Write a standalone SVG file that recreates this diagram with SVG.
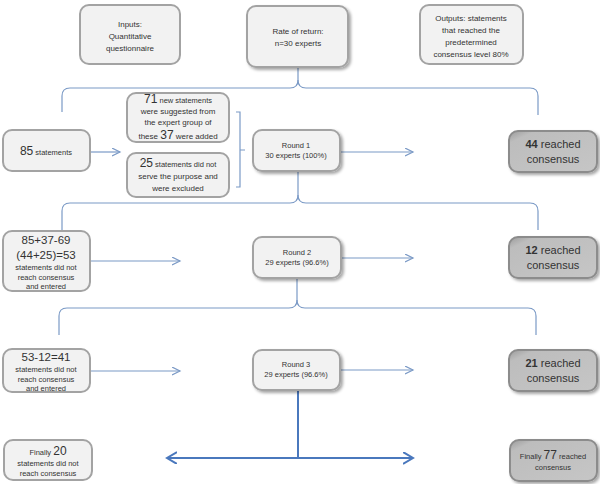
<svg xmlns="http://www.w3.org/2000/svg" width="600" height="484" viewBox="0 0 600 484">
<defs>
<style>
.box{fill:#f2f2f2;stroke:#a3a3a3;stroke-width:2}
.dark{fill:url(#dg);stroke:#8c8c8c;stroke-width:2}
.ln{fill:none;stroke:#7b9ac6;stroke-width:1.2}
.bl{fill:none;stroke:#4a78bd;stroke-width:2}
text{font-family:"Liberation Sans",Arial,sans-serif;fill:#333;text-anchor:middle}
.s{font-size:7.5px}
.m{font-size:8px}
.b{font-size:12px}
.d{font-size:11px}
.e{font-size:11.5px}
</style>
<linearGradient id="dg" x1="0" y1="0" x2="1" y2="1">
<stop offset="0" stop-color="#9a9a9a"/>
<stop offset="0.15" stop-color="#bdbdbd"/>
<stop offset="1" stop-color="#c6c6c6"/>
</linearGradient>
<filter id="sh" x="-20%" y="-20%" width="150%" height="150%">
<feDropShadow dx="2" dy="2" stdDeviation="1.5" flood-color="#000" flood-opacity="0.35"/>
</filter>
<marker id="ah" markerWidth="10" markerHeight="10" refX="8" refY="4" orient="auto" markerUnits="userSpaceOnUse">
<path d="M0,0 L8,4 L0,8" fill="none" stroke="#7b9ac6" stroke-width="1.2"/>
</marker>
<marker id="ab" markerWidth="14" markerHeight="14" refX="10" refY="6" orient="auto-start-reverse" markerUnits="userSpaceOnUse">
<path d="M0,0 L10,6 L0,12" fill="none" stroke="#4a78bd" stroke-width="2"/>
</marker>
</defs>

<g id="connectors">
<path class="ln" d="M298,68 L298,80 Q298,88 290,88 L70,88 Q62,88 62,96 L62,112"/>
<path class="ln" d="M298,80 Q298,88 306,88 L530,88 Q538,88 538,96 L538,115"/>
<path class="ln" d="M298,172 L298,195 Q298,203 290,203 L70,203 Q62,203 62,211 L62,230"/>
<path class="ln" d="M298,195 Q298,203 306,203 L530,203 Q538,203 538,211 L538,230"/>
<path class="ln" d="M297,279 L297,300 Q297,308 289,308 L67,308 Q59,308 59,316 L59,335"/>
<path class="ln" d="M297,300 Q297,308 305,308 L528,308 Q536,308 536,316 L536,335"/>
<path class="ln" d="M236,112 L240,112 L240,187 L236,187 M240,150 L245,150"/>
<path class="ln" d="M90,152 L120,152" marker-end="url(#ah)"/>
<path class="ln" d="M340,152 L413,152" marker-end="url(#ah)"/>
<path class="ln" d="M90,261 L180,261" marker-end="url(#ah)"/>
<path class="ln" d="M342,258 L413,258" marker-end="url(#ah)"/>
<path class="ln" d="M90,371 L180,371" marker-end="url(#ah)"/>
<path class="ln" d="M340,370 L413,370" marker-end="url(#ah)"/>
<path class="bl" d="M298,390 L298,458"/>
<path class="bl" d="M167,458 L413,458" marker-start="url(#ab)" marker-end="url(#ab)"/>
</g>

<g id="inputs">
<rect class="box" x="80" y="5" width="100" height="59" rx="9"/>
<text class="m" x="130" y="27">Inputs:</text>
<text class="m" x="130" y="39">Quantitative</text>
<text class="m" x="130" y="51">questionnaire</text>
</g>
<g id="rate">
<rect class="box" x="247" y="6" width="101" height="61" rx="9" filter="url(#sh)"/>
<text class="m" x="298" y="34">Rate of return:</text>
<text class="m" x="298" y="46">n=30 experts</text>
</g>
<g id="outputs">
<rect class="box" x="420" y="5" width="103" height="59" rx="9"/>
<text class="m" x="471" y="21">Outputs:  statements</text>
<text class="m" x="471" y="33">that reached the</text>
<text class="m" x="471" y="45">predetermined</text>
<text class="m" x="471" y="57">consensus level 80%</text>
</g>

<g id="s85">
<rect class="box" x="3" y="130" width="87" height="41" rx="9"/>
<text x="46" y="155"><tspan class="b">85</tspan><tspan class="s"> statements</tspan></text>
</g>
<g id="s71">
<rect class="box" x="127" y="93" width="102" height="49" rx="9"/>
<text x="178" y="103"><tspan class="b">71</tspan><tspan class="s"> new statements</tspan></text>
<text class="m" x="178" y="114">were suggested from</text>
<text class="m" x="178" y="125">the expert group of</text>
<text x="178" y="138.5"><tspan class="m">these  </tspan><tspan class="b">37</tspan><tspan class="m"> were added</tspan></text>
</g>
<g id="s25">
<rect class="box" x="127" y="153" width="102" height="44" rx="9"/>
<text x="178" y="167"><tspan class="b">25</tspan><tspan class="s"> statements did not</tspan></text>
<text class="m" x="178" y="179">serve the purpose and</text>
<text class="m" x="178" y="191">were excluded</text>
</g>
<g id="round1">
<rect class="box" x="253" y="130" width="87" height="41" rx="9" filter="url(#sh)"/>
<text class="s" x="296" y="148">Round 1</text>
<text class="s" x="296" y="158">30 experts (100%)</text>
</g>
<g id="r44">
<rect class="dark" x="509" y="131" width="88" height="41" rx="9" filter="url(#sh)"/>
<text class="d" x="553" y="148"><tspan font-weight="bold">44</tspan> reached</text>
<text class="d" x="553" y="163">consensus</text>
</g>

<g id="s53">
<rect class="box" x="3" y="231" width="87" height="60" rx="9"/>
<text class="e" x="46" y="244">85+37-69</text>
<text class="e" x="46" y="259">(44+25)=53</text>
<text class="s" x="46" y="270">statements did not</text>
<text class="s" x="46" y="280">reach consensus</text>
<text class="s" x="46" y="289">and entered</text>
</g>
<g id="round2">
<rect class="box" x="253" y="237" width="88" height="41" rx="9" filter="url(#sh)"/>
<text class="s" x="297" y="255">Round 2</text>
<text class="s" x="297" y="265">29 experts (96.6%)</text>
</g>
<g id="r12">
<rect class="dark" x="509" y="237" width="88" height="41" rx="9" filter="url(#sh)"/>
<text class="d" x="553" y="254"><tspan font-weight="bold">12</tspan> reached</text>
<text class="d" x="553" y="269">consensus</text>
</g>

<g id="s41">
<rect class="box" x="3" y="349" width="87" height="43" rx="9"/>
<text class="e" x="46" y="361">53-12=41</text>
<text class="s" x="46" y="372">statements did not</text>
<text class="s" x="46" y="382">reach consensus</text>
<text class="s" x="46" y="391">and entered</text>
</g>
<g id="round3">
<rect class="box" x="253" y="350" width="87" height="40" rx="9" filter="url(#sh)"/>
<text class="s" x="296" y="367">Round 3</text>
<text class="s" x="296" y="377">29 experts (96.6%)</text>
</g>
<g id="r21">
<rect class="dark" x="509" y="350" width="88" height="41" rx="9" filter="url(#sh)"/>
<text class="d" x="553" y="367"><tspan font-weight="bold">21</tspan> reached</text>
<text class="d" x="553" y="382">consensus</text>
</g>

<g id="final20">
<rect class="box" x="4" y="440" width="88" height="40" rx="9"/>
<text x="48" y="455"><tspan class="s">Finally </tspan><tspan class="b">20</tspan></text>
<text class="s" x="48" y="466">statements did not</text>
<text class="s" x="48" y="476">reach consensus</text>
</g>
<g id="final77">
<rect class="dark" x="510" y="440" width="87" height="41" rx="9" filter="url(#sh)"/>
<text x="553" y="459"><tspan class="s">Finally </tspan><tspan class="b">77</tspan><tspan class="s"> reached</tspan></text>
<text class="s" x="553" y="470">consensus</text>
</g>
</svg>
